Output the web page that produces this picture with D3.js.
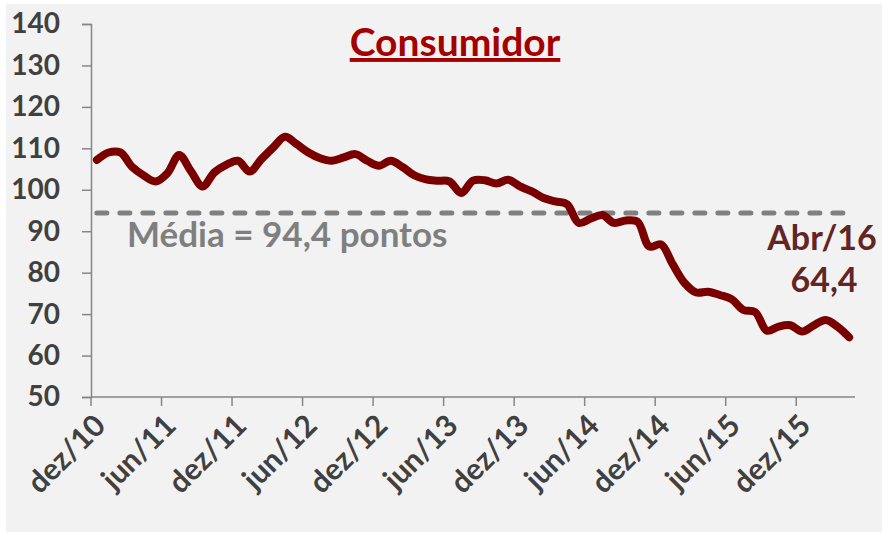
<!DOCTYPE html>
<html>
<head>
<meta charset="utf-8">
<script src="https://cdn.jsdelivr.net/npm/d3@7"></script>
<style>
  body { margin: 0; background: #ffffff; }
  svg { display: block; }
  text { font-family: Lato, "Open Sans", sans-serif; font-weight: bold; }
</style>
</head>
<body>
<div id="chart"></div>
<script>
// monthly index, dez/10 .. abr/16
const months = ['dez/10','jan/11','fev/11','mar/11','abr/11','mai/11','jun/11','jul/11','ago/11','set/11','out/11','nov/11',
  'dez/11','jan/12','fev/12','mar/12','abr/12','mai/12','jun/12','jul/12','ago/12','set/12','out/12','nov/12',
  'dez/12','jan/13','fev/13','mar/13','abr/13','mai/13','jun/13','jul/13','ago/13','set/13','out/13','nov/13',
  'dez/13','jan/14','fev/14','mar/14','abr/14','mai/14','jun/14','jul/14','ago/14','set/14','out/14','nov/14',
  'dez/14','jan/15','fev/15','mar/15','abr/15','mai/15','jun/15','jul/15','ago/15','set/15','out/15','nov/15',
  'dez/15','jan/16','fev/16','mar/16','abr/16'];

const consumidor = [107.2, 109.0, 109.0, 105.5, 103.4, 102.0, 104.0, 108.4, 104.5, 100.8, 104.2, 106.0,
  107.0, 104.4, 107.4, 110.2, 112.8, 111.0, 109.0, 107.6, 107.0, 107.8, 108.6, 107.0,
  105.8, 107.0, 105.5, 103.5, 102.5, 102.2, 102.0, 99.2, 102.2, 102.3, 101.5, 102.4,
  100.8, 99.6, 98.0, 97.2, 96.5, 92.0, 93.0, 93.9, 92.0, 92.6, 92.3, 86.3,
  86.8, 82.0, 77.5, 75.2, 75.4, 74.6, 73.6, 71.0, 70.5, 66.0, 67.0, 67.3,
  65.8, 67.3, 68.6, 67.0, 64.4];

const media = 94.4;
const yTicks = [50, 60, 70, 80, 90, 100, 110, 120, 130, 140];
const xTickEvery = 6;

const width = 888, height = 541;
const plotLeft = 91, plotRight = 855, plotTop = 24, plotBottom = 397;

const svg = d3.select('#chart').append('svg')
  .attr('width', width)
  .attr('height', height);

svg.append('rect')
  .attr('x', 6).attr('y', 4)
  .attr('width', 876).attr('height', 528)
  .attr('fill', '#f2f2f2');

const x = d3.scaleBand().domain(months).range([plotLeft, plotRight]);
const y = d3.scaleLinear().domain([50, 140]).range([plotBottom, plotTop]);
const cx = d => x(d) + x.bandwidth() / 2;

// y axis
const yAxis = d3.axisLeft(y).tickValues(yTicks).tickSize(9).tickPadding(22);
const gy = svg.append('g')
  .attr('transform', `translate(${plotLeft},0)`)
  .call(yAxis);
gy.select('.domain').attr('stroke', '#868686').attr('stroke-width', 1.5);
gy.selectAll('.tick line').attr('stroke', '#868686').attr('stroke-width', 1.5);
gy.selectAll('.tick text')
  .attr('fill', '#404040')
  .style('font-size', '28px');

// x axis: ticks on category boundaries every 6 months
const tickIdx = d3.range(0, months.length, xTickEvery);
const gx = svg.append('g').attr('class', 'x axis');
gx.append('line')
  .attr('x1', plotLeft).attr('x2', plotRight)
  .attr('y1', plotBottom).attr('y2', plotBottom)
  .attr('stroke', '#868686').attr('stroke-width', 1.5);
gx.selectAll('line.tick')
  .data(tickIdx)
  .join('line')
  .attr('class', 'tick')
  .attr('x1', i => x(months[i])).attr('x2', i => x(months[i]))
  .attr('y1', plotBottom).attr('y2', plotBottom + 9)
  .attr('stroke', '#868686').attr('stroke-width', 1.5);
gx.selectAll('text')
  .data(tickIdx)
  .join('text')
  .attr('transform', i => `translate(${cx(months[i]) + 3},${plotBottom + 23}) rotate(-45)`)
  .attr('text-anchor', 'end')
  .attr('dy', '0.35em')
  .attr('fill', '#404040')
  .style('font-size', '30px')
  .text(i => months[i]);

// média line
const lineMedia = d3.line()
  .x(d => cx(d))
  .y(() => y(media));

svg.append('path')
  .datum(months)
  .attr('fill', 'none')
  .attr('stroke', '#808080')
  .attr('stroke-width', 5)
  .attr('stroke-dasharray', '10 13')
  .attr('stroke-linecap', 'round')
  .attr('d', lineMedia);

// consumidor line
const lineC = d3.line()
  .curve(d3.curveCatmullRom)
  .x((d, i) => cx(months[i]))
  .y(d => y(d));

svg.append('path')
  .datum(consumidor)
  .attr('fill', 'none')
  .attr('stroke', '#7a0000')
  .attr('stroke-width', 8)
  .attr('stroke-linejoin', 'round')
  .attr('stroke-linecap', 'round')
  .attr('d', lineC);

// texts
svg.append('text')
  .attr('x', 455).attr('y', 56)
  .attr('text-anchor', 'middle')
  .attr('fill', '#a50000')
  .style('font-size', '39px')
  .style('text-decoration', 'underline')
  .text('Consumidor');

svg.append('text')
  .attr('x', 127).attr('y', 247)
  .attr('fill', '#7f7f7f')
  .style('font-size', '35px')
  .text('Média = 94,4 pontos');

svg.append('text')
  .attr('x', 822).attr('y', 250)
  .attr('text-anchor', 'middle')
  .attr('fill', '#632523')
  .style('font-size', '34px')
  .text('Abr/16');

svg.append('text')
  .attr('x', 824).attr('y', 292)
  .attr('text-anchor', 'middle')
  .attr('fill', '#632523')
  .style('font-size', '34px')
  .text('64,4');
</script>
</body>
</html>
